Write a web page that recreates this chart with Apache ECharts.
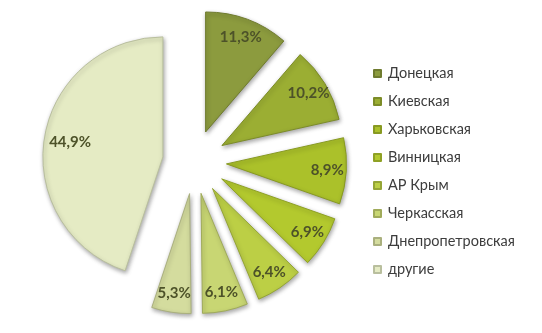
<!DOCTYPE html>
<html>
<head>
<meta charset="utf-8">
<script src="https://cdn.jsdelivr.net/npm/echarts@6/dist/echarts.min.js"></script>
<style>
html,body{margin:0;padding:0;background:#fff;}
#chart{width:542px;height:333px;}
</style>
</head>
<body>
<div id="chart"></div>
<script>
var categories = ['Донецкая','Киевская','Харьковская','Винницкая','АР Крым','Черкасская','Днепропетровская','другие'];
var values = [11.3, 10.2, 8.9, 6.9, 6.4, 6.1, 5.3, 44.9];
var colors = ['#8c9b3e','#9bae33','#abc12a','#b3c92e','#bccf45','#c8d673','#d4dc9e','#e5ebc4'];
var borders = ['#6f7b2f','#7c8c28','#889a22','#8fa125','#95a536','#a0ab5a','#aab07e','#b9bf9e'];

var center = [194.5, 162];
var offset = 32;

function fmt(p){ return p.value.toFixed(1).replace('.', ',') + '%'; }

var pieData = categories.map(function(n,i){
  return {name:n, value:values[i], selected:true,
    itemStyle:{color:colors[i], borderColor:borders[i], borderWidth:1}};
});
function labelData(showFn){
  return categories.map(function(n,i){
    return {name:n, value:values[i], selected:true,
      label:{show:showFn(i)},
      itemStyle:{color:'rgba(0,0,0,0)', borderWidth:0}};
  });
}
var labelStyle = {position:'inside', formatter:fmt, fontFamily:'Lato', fontWeight:'bold', fontSize:15, color:'#4d5229'};

var chart = echarts.init(document.getElementById('chart'));
chart.setOption({
  animation:false,
  backgroundColor:'#ffffff',
  legend:{
    orient:'vertical',
    left:368, top:61,
    itemWidth:7, itemHeight:7, itemGap:13,
    icon:'rect',
    data:categories,
    textStyle:{fontFamily:'Lato', fontSize:14.5, color:'#3d3d3d', lineHeight:14, padding:[0,0,0,2]}
  },
  series:[
    {
      type:'pie', center:center, radius:[0,120], startAngle:90, clockwise:true,
      selectedMode:'multiple', selectedOffset:offset,
      label:{show:false}, labelLine:{show:false},
      itemStyle:{shadowBlur:4, shadowColor:'rgba(0,0,0,0.35)', shadowOffsetX:1, shadowOffsetY:2},
      data:pieData
    },
    {
      type:'pie', center:center, radius:[76,120], startAngle:90, clockwise:true,
      selectedMode:'multiple', selectedOffset:offset, silent:true,
      avoidLabelOverlap:false, legendHoverLink:false,
      label:labelStyle, labelLine:{show:false},
      data:labelData(function(i){return i < 7;})
    },
    {
      type:'pie', center:center, radius:[62,120], startAngle:90, clockwise:true,
      selectedMode:'multiple', selectedOffset:offset, silent:true,
      avoidLabelOverlap:false, legendHoverLink:false,
      label:labelStyle, labelLine:{show:false},
      data:labelData(function(i){return i === 7;})
    }
  ]
});
</script>
</body>
</html>
